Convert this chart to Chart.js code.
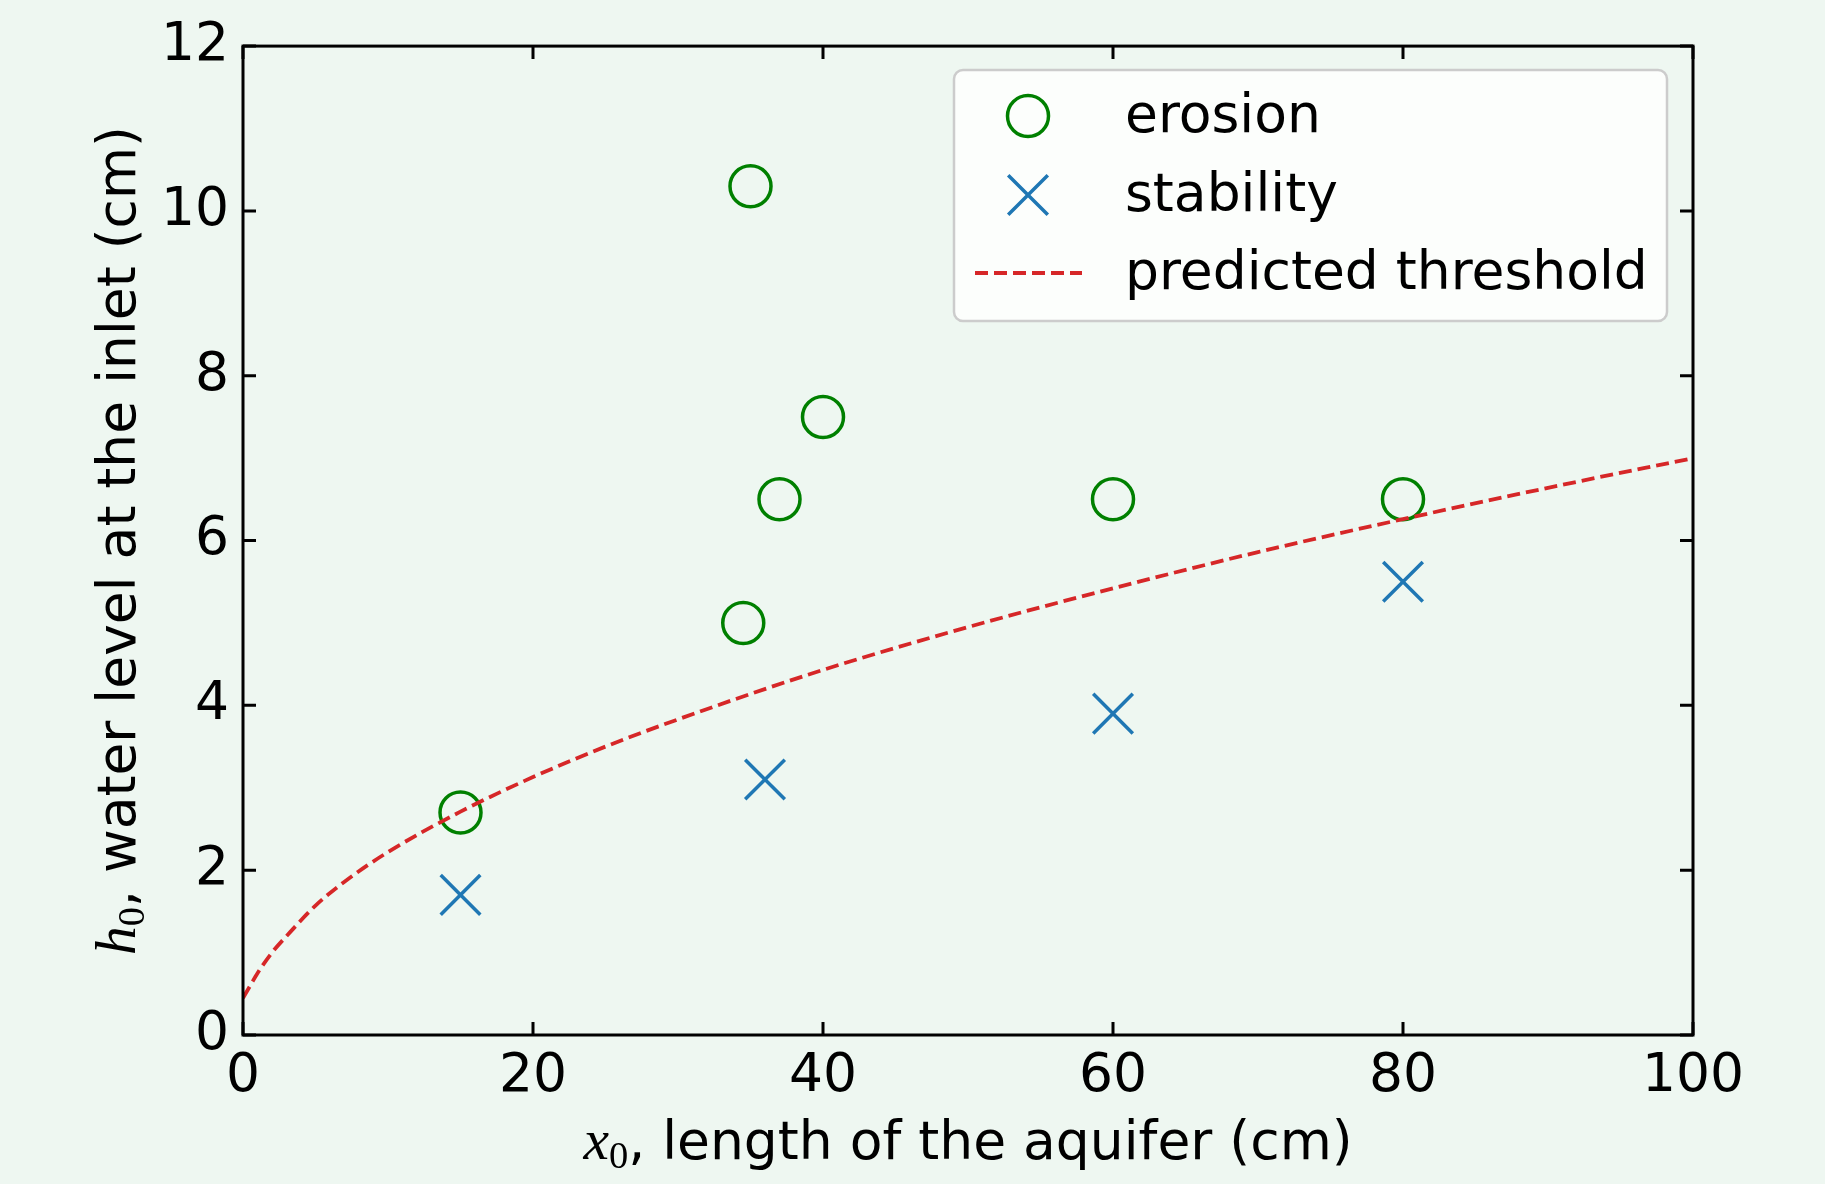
<!DOCTYPE html>
<html>
<head>
<meta charset="utf-8">
<script src="https://cdn.jsdelivr.net/npm/chart.js@4.4.1/dist/chart.umd.min.js"></script>
<style>
  html, body { margin: 0; padding: 0; background: #eef7f1; }
  #wrap { width: 1825px; height: 1184px; }
</style>
</head>
<body>
<div id="wrap"><canvas id="chart" width="1825" height="1184"></canvas></div>
<script>
// data
const erosionX = [15, 35, 34.5, 37, 40, 60, 80];
const erosionY = [2.7, 10.3, 5.0, 6.5, 7.5, 6.5, 6.5];

const stabilityX = [15, 36, 60, 80];
const stabilityY = [1.7, 3.1, 3.9, 5.5];

const thresholdX = [0, 0.5, 1, 2, 3, 5, 7, 10, 15, 20, 25, 30, 40, 50, 60, 70, 80, 90, 100];
const thresholdY = [0.45, 0.6, 0.75, 1.0, 1.2, 1.57, 1.86, 2.22, 2.71, 3.13, 3.5, 3.83, 4.43, 4.95, 5.42, 5.86, 6.26, 6.64, 7.0];

const seriesLabels = ["erosion", "stability", "predicted threshold"];

const BG = "#eef7f1";
const FONT = "DejaVu Sans";
const FS = 53.5;

function toPoints(xs, ys) {
    return xs.map((x, i) => ({ x: x, y: ys[i] }));
}

// background, frame with inward ticks, axis titles, legend
const decor = {
    id: "decor",
    beforeDraw(chart) {
        const ctx = chart.ctx;
        ctx.save();
        ctx.fillStyle = BG;
        ctx.fillRect(0, 0, chart.width, chart.height);
        ctx.restore();
    },
    afterDatasetsDraw(chart) {
        const ctx = chart.ctx;
        const a = chart.chartArea;
        const xs = chart.scales.x, ys = chart.scales.y;
        const tl = 13;
        ctx.save();
        ctx.strokeStyle = "#000";
        ctx.lineWidth = 3;
        ctx.beginPath();
        xs.ticks.forEach((t) => {
            const px = xs.getPixelForValue(t.value);
            ctx.moveTo(px, a.bottom); ctx.lineTo(px, a.bottom - tl);
            ctx.moveTo(px, a.top); ctx.lineTo(px, a.top + tl);
        });
        ys.ticks.forEach((t) => {
            const py = ys.getPixelForValue(t.value);
            ctx.moveTo(a.left, py); ctx.lineTo(a.left + tl, py);
            ctx.moveTo(a.right, py); ctx.lineTo(a.right - tl, py);
        });
        ctx.stroke();
        ctx.strokeRect(a.left, a.top, a.right - a.left, a.bottom - a.top);
        ctx.restore();

        drawLegend(chart);
    },
    afterDraw(chart) {
        const ctx = chart.ctx;
        const a = chart.chartArea;
        const cx = (a.left + a.right) / 2;
        const cy = (a.top + a.bottom) / 2;
        ctx.save();
        ctx.fillStyle = "#000";
        ctx.textBaseline = "alphabetic";

        // x title
        drawMathTitle(ctx, "x", ", length of the aquifer (cm)", cx, 1159);

        // y title
        ctx.translate(135, cy);
        ctx.rotate(-Math.PI / 2);
        drawMathTitle(ctx, "h", ", water level at the inlet (cm)", 0, 0);
        ctx.restore();
    }
};

function drawMathTitle(ctx, sym, rest, cx, base) {
    const fMath = "italic " + (FS + 4) + "px 'Liberation Serif'";
    const fSub = (FS * 0.72) + "px 'Liberation Serif'";
    const fText = FS + "px '" + FONT + "'";
    ctx.font = fMath; const w1 = ctx.measureText(sym).width;
    ctx.font = fSub; const w2 = ctx.measureText("0").width;
    ctx.font = fText; const w3 = ctx.measureText(rest).width;
    let x = cx - (w1 + w2 + w3) / 2;
    ctx.textAlign = "left";
    ctx.font = fMath; ctx.fillText(sym, x, base); x += w1;
    ctx.font = fSub; ctx.fillText("0", x, base + 9); x += w2;
    ctx.font = fText; ctx.fillText(rest, x, base);
}

function drawLegend(chart) {
    const ctx = chart.ctx;
    const box = { x: 954, y: 70, w: 713, h: 251 };
    const rows = [116, 195, 273];
    const markX = 1028, textX = 1125;
    ctx.save();
    ctx.beginPath();
    ctx.roundRect(box.x, box.y, box.w, box.h, 9);
    ctx.fillStyle = "rgba(255,255,255,0.8)";
    ctx.fill();
    ctx.strokeStyle = "#cccccc";
    ctx.lineWidth = 2.5;
    ctx.stroke();

    chart.data.datasets.forEach((ds, i) => {
        const y = rows[i];
        ctx.strokeStyle = ds.borderColor;
        ctx.fillStyle = "rgba(0,0,0,0)";
        if (ds.showLine) {
            ctx.lineWidth = ds.borderWidth;
            ctx.setLineDash(ds.borderDash);
            ctx.beginPath();
            ctx.moveTo(975, y); ctx.lineTo(1082, y);
            ctx.stroke();
            ctx.setLineDash([]);
        } else {
            ctx.lineWidth = ds.borderWidth;
            Chart.helpers.drawPoint(ctx, {
                pointStyle: ds.pointStyle,
                radius: ds.pointRadius,
                borderWidth: ds.borderWidth,
                rotation: 0
            }, markX, y);
        }
        ctx.fillStyle = "#000";
        ctx.font = FS + "px '" + FONT + "'";
        ctx.textAlign = "left";
        ctx.textBaseline = "middle";
        ctx.fillText(ds.label, textX, y + 2);
    });
    ctx.restore();
}

const ctx = document.getElementById("chart").getContext("2d");

new Chart(ctx, {
    type: "scatter",
    data: {
        datasets: [
            {
                label: seriesLabels[0],
                data: toPoints(erosionX, erosionY),
                pointStyle: "circle",
                pointRadius: 20.5,
                pointHoverRadius: 20.5,
                borderColor: "#008000",
                backgroundColor: "rgba(0,0,0,0)",
                borderWidth: 3.5,
                order: 1,
            },
            {
                label: seriesLabels[1],
                data: toPoints(stabilityX, stabilityY),
                pointStyle: "crossRot",
                pointRadius: 28,
                pointHoverRadius: 28,
                borderColor: "#1f77b4",
                backgroundColor: "#1f77b4",
                borderWidth: 3.5,
                order: 1,
            },
            {
                label: seriesLabels[2],
                data: toPoints(thresholdX, thresholdY),
                showLine: true,
                pointRadius: 0,
                pointHoverRadius: 0,
                borderColor: "#d62728",
                backgroundColor: "#d62728",
                borderWidth: 3.8,
                borderDash: [13, 6],
                cubicInterpolationMode: "monotone",
                order: 0,
            },
        ],
    },
    options: {
        responsive: false,
        devicePixelRatio: 1,
        animation: false,
        events: [],
        layout: {
            padding: { left: 0, top: 44, right: 132, bottom: 0 },
        },
        plugins: {
            legend: { display: false },
            tooltip: { enabled: false },
        },
        scales: {
            x: {
                type: "linear",
                min: 0,
                max: 100,
                grid: { display: false, drawTicks: false, tickLength: 0 },
                border: { display: false },
                ticks: {
                    stepSize: 20,
                    color: "#000",
                    padding: 10,
                    font: { family: FONT, size: FS },
                    maxRotation: 0,
                },
                afterFit: (s) => { s.height = 149; },
            },
            y: {
                type: "linear",
                min: 0,
                max: 12,
                grid: { display: false, drawTicks: false, tickLength: 0 },
                border: { display: false },
                ticks: {
                    stepSize: 2,
                    color: "#000",
                    padding: 14,
                    font: { family: FONT, size: FS },
                },
                afterFit: (s) => { s.width = 243; },
            },
        },
    },
    plugins: [decor],
});
</script>
</body>
</html>
